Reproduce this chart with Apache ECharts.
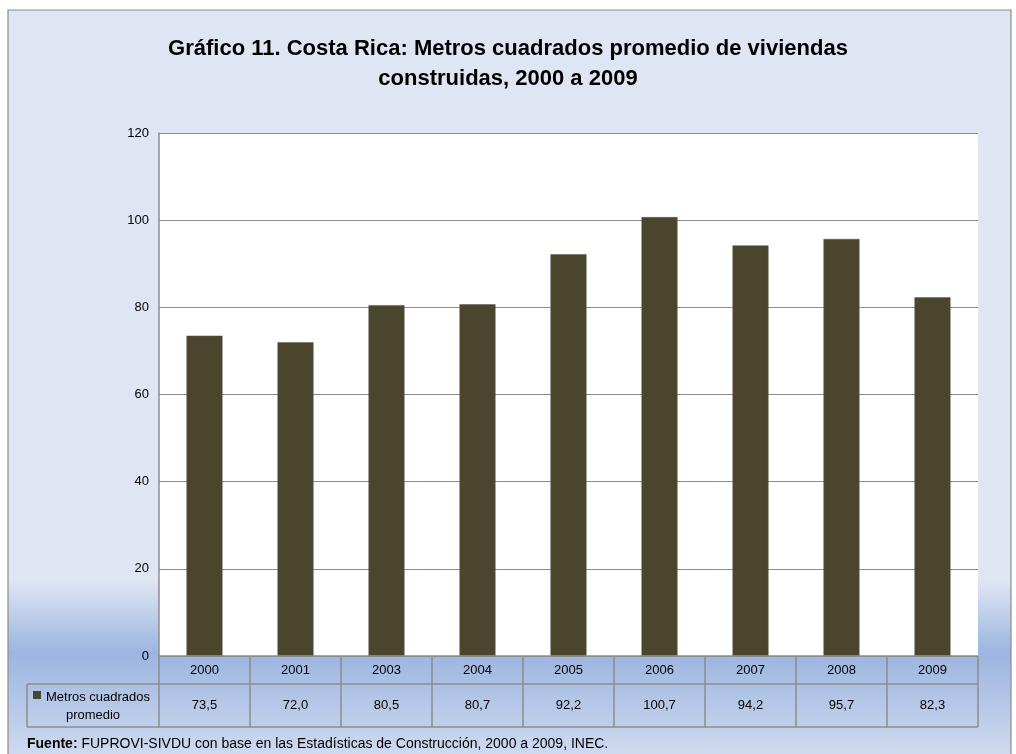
<!DOCTYPE html>
<html>
<head>
<meta charset="utf-8">
<script src="https://cdn.jsdelivr.net/npm/echarts@6/dist/echarts.min.js"></script>
<style>
  html, body { margin: 0; padding: 0; background: #fff; }
  #chart { width: 1016px; height: 754px; }
</style>
</head>
<body>
<div id="chart"></div>
<script>
// datos del gráfico
var years = ['2000', '2001', '2003', '2004', '2005', '2006', '2007', '2008', '2009'];
var metros = [73.5, 72.0, 80.5, 80.7, 92.2, 100.7, 94.2, 95.7, 82.3];
var yTicks = [0, 20, 40, 60, 80, 100, 120];
var serieNombre = 'Metros cuadrados promedio';

var fontFam = "'Liberation Sans Narrow', 'Liberation Sans', Arial, sans-serif";
var barColor = '#4a452d';
var lineColor = '#8c8c8c';

function fmt(v) {
    return v.toFixed(1).replace('.', ',');
}

var chart = echarts.init(document.getElementById('chart'));

var option = {
    backgroundColor: '#fff',
    animation: false,
    textStyle: { fontFamily: fontFam },
    title: {
        text: 'Gráfico 11. Costa Rica: Metros cuadrados promedio de viviendas\nconstruidas, 2000 a 2009',
        left: 'center',
        top: 29,
        textStyle: { fontSize: 22, fontWeight: 'bold', color: '#000', lineHeight: 30, fontFamily: fontFam }
    },
    grid: {
        left: 159,
        right: 38,
        top: 133,
        bottom: 98,
        show: true,
        backgroundColor: '#fff',
        borderWidth: 0
    },
    xAxis: {
        type: 'category',
        data: years,
        axisTick: { show: false },
        axisLine: { show: false },
        axisLabel: {
            margin: 0,
            verticalAlign: 'top',
            formatter: function (v, i) {
                return '{y|' + v + '}\n{v|' + fmt(metros[i]) + '}';
            },
            rich: {
                y: { fontSize: 13, lineHeight: 28, color: '#000', fontFamily: fontFam },
                v: { fontSize: 13, lineHeight: 43, color: '#000', fontFamily: fontFam }
            }
        }
    },
    yAxis: {
        type: 'value',
        min: yTicks[0],
        max: yTicks[yTicks.length - 1],
        interval: 20,
        axisLine: { show: true, lineStyle: { color: lineColor, width: 1.5 } },
        axisTick: { show: false },
        axisLabel: { fontSize: 13, color: '#000', margin: 10, fontFamily: fontFam },
        splitLine: { lineStyle: { color: lineColor, width: 1.2 } }
    },
    series: [{
        name: serieNombre,
        type: 'bar',
        barWidth: 36,
        data: metros,
        itemStyle: { color: barColor, borderColor: '#5e5a48', borderWidth: 0.5 }
    }]
};
chart.setOption(option);

// fondo, tabla de datos y fuente
function drawExtras() {
    var g = [];
    // fondo del área del gráfico
    g.push({
        type: 'rect', z: -10, silent: true,
        shape: { x: 8, y: 10, width: 1003, height: 760 },
        style: {
            fill: new echarts.graphic.LinearGradient(0, 0, 0, 1, [
                { offset: 0, color: '#dfe6f3' },
                { offset: 0.75, color: '#dfe6f3' },
                { offset: 0.845, color: '#9cb5e0' },
                { offset: 1, color: '#d6e0f1' }
            ]),
            stroke: '#8c8c8c', lineWidth: 1.2
        }
    });
    var y0 = chart.convertToPixel({ yAxisIndex: 0 }, 0);
    var left0 = chart.convertToPixel({ xAxisIndex: 0 }, 0);
    var left1 = chart.convertToPixel({ xAxisIndex: 0 }, 1);
    var step = left1 - left0;
    var xStart = left0 - step / 2;
    var xEnd = xStart + step * years.length;
    var r1 = y0 + 28, r2 = r1 + 43;
    var labelLeft = 27;
    var ln = function (x1, y1, x2, y2) {
        g.push({ type: 'line', z: 10, silent: true, shape: { x1: x1, y1: y1, x2: x2, y2: y2 },
            style: { stroke: lineColor, lineWidth: 1.5 } });
    };
    ln(xStart, y0, xEnd, y0);
    ln(labelLeft, r1, xEnd, r1);
    ln(labelLeft, r2, xEnd, r2);
    ln(labelLeft, r1, labelLeft, r2);
    for (var i = 0; i <= years.length; i++) {
        var x = xStart + step * i;
        ln(x, y0, x, r2);
    }
    // leyenda dentro de la tabla
    g.push({ type: 'rect', z: 11, silent: true, shape: { x: 33, y: 691, width: 8, height: 8 },
        style: { fill: barColor } });
    g.push({ type: 'text', z: 11, silent: true, x: 98, y: 697,
        style: { text: 'Metros cuadrados', font: '13px ' + fontFam, fill: '#000', align: 'center', verticalAlign: 'middle' } });
    g.push({ type: 'text', z: 11, silent: true, x: 93, y: 715,
        style: { text: 'promedio', font: '13px ' + fontFam, fill: '#000', align: 'center', verticalAlign: 'middle' } });
    // fuente
    g.push({ type: 'text', z: 11, silent: true, x: 27, y: 744,
        style: {
            text: '{b|Fuente:} FUPROVI-SIVDU con base en las Estadísticas de Construcción, 2000 a 2009, INEC.',
            font: '14px ' + fontFam, fill: '#000', verticalAlign: 'middle',
            rich: { b: { fontWeight: 'bold', fontSize: 14, fontFamily: fontFam } }
        } });
    chart.setOption({ graphic: g });
}
drawExtras();
</script>
</body>
</html>
